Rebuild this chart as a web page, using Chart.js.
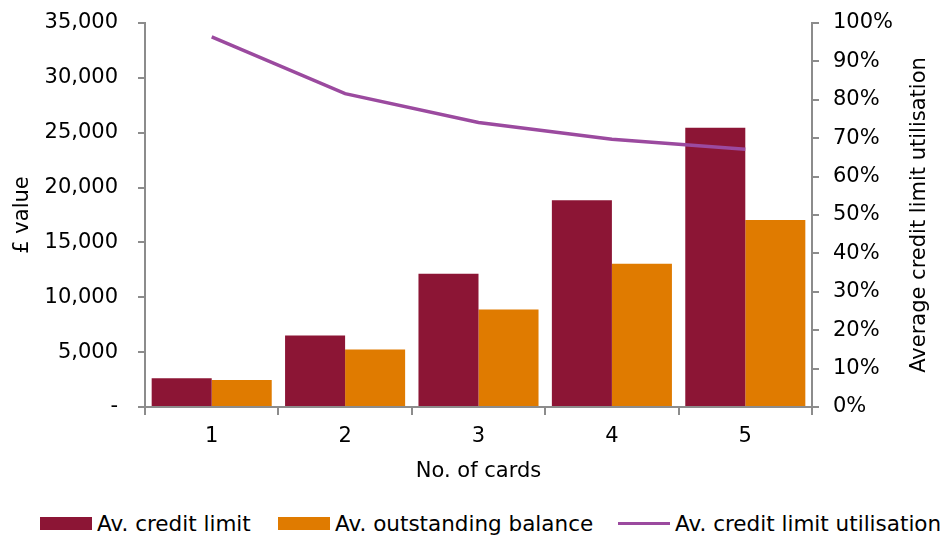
<!DOCTYPE html>
<html>
<head>
<meta charset="utf-8">
<script src="https://cdn.jsdelivr.net/npm/chart.js@4/dist/chart.umd.min.js"></script>
<style>
  html, body { margin: 0; padding: 0; background: #fff; }
  #wrap { position: relative; width: 946px; height: 500px; }
  #legend {
    position: absolute; left: 0; top: 508px; width: 946px; height: 30px;
    font-family: "DejaVu Sans", Verdana, sans-serif; font-size: 21.5px; color: #000;
  }
  .item { position: absolute; top: 0; height: 30px; display: flex; align-items: center; white-space: nowrap; }
  .swatch { width: 52px; height: 13px; margin-right: 5px; }
  .line { width: 52px; height: 3px; margin-right: 5px; }
</style>
</head>
<body>
<div id="wrap"><canvas id="chart"></canvas></div>
<div id="legend"></div>
<script>
const cards = ["1", "2", "3", "4", "5"];
const creditLimit = [2620, 6520, 12150, 18850, 25450];
const outstanding = [2450, 5250, 8880, 13050, 17050];
const utilisation = [96.4, 81.6, 74.1, 69.7, 67.1];

const crimson = "#8c1535";
const orange = "#e07b00";
const purple = "#9b4a9f";
const axisGrey = "#8c8c8c";
const fontFamily = "'DejaVu Sans', Verdana, sans-serif";
const font = { family: fontFamily, size: 21 };

const legendItems = [
  { label: "Av. credit limit", color: crimson, kind: "swatch", x: 40 },
  { label: "Av. outstanding balance", color: orange, kind: "swatch", x: 278 },
  { label: "Av. credit limit utilisation", color: purple, kind: "line", x: 618 },
];
document.getElementById("legend").innerHTML = legendItems.map((item) =>
  `<div class="item" style="left:${item.x}px"><span class="${item.kind}" style="background:${item.color}"></span>${item.label}</div>`
).join("");

// right-hand title reads bottom-to-top, which Chart.js won't do for a right axis
const rightTitle = {
  id: "rightTitle",
  afterDraw(chart) {
    const { ctx, chartArea } = chart;
    ctx.save();
    ctx.translate(920, (chartArea.top + chartArea.bottom) / 2);
    ctx.rotate(-Math.PI / 2);
    ctx.font = `21px ${fontFamily}`;
    ctx.fillStyle = "#000";
    ctx.textAlign = "center";
    ctx.textBaseline = "middle";
    ctx.fillText("Average credit limit utilisation", 0, 0);
    ctx.restore();
  },
};

function fixWidth(width) {
  return (scale) => {
    scale.width = width;
    scale.paddingTop = 0;
    scale.paddingBottom = 0;
  };
}

Chart.defaults.font = font;
Chart.defaults.color = "#000";

new Chart(document.getElementById("chart"), {
  type: "bar",
  data: {
    labels: cards,
    datasets: [
      {
        type: "line",
        label: "Av. credit limit utilisation",
        data: utilisation,
        yAxisID: "y2",
        borderColor: purple,
        backgroundColor: purple,
        borderWidth: 3.5,
        pointRadius: 0,
        tension: 0,
        order: 0,
      },
      {
        label: "Av. credit limit",
        data: creditLimit,
        yAxisID: "y",
        backgroundColor: crimson,
        categoryPercentage: 0.9,
        barPercentage: 1,
        order: 1,
      },
      {
        label: "Av. outstanding balance",
        data: outstanding,
        yAxisID: "y",
        backgroundColor: orange,
        categoryPercentage: 0.9,
        barPercentage: 1,
        order: 1,
      },
    ],
  },
  options: {
    responsive: true,
    maintainAspectRatio: false,
    animation: false,
    layout: { padding: { top: 23, left: 0, right: 0, bottom: 16 } },
    plugins: { legend: { display: false }, tooltip: { enabled: false } },
    scales: {
      x: {
        offset: true,
        grid: { offset: true, drawOnChartArea: false, drawTicks: true, tickLength: 8, color: axisGrey, lineWidth: 2 },
        border: { color: axisGrey, width: 2 },
        ticks: { padding: 9, maxRotation: 0 },
        title: { display: true, text: "No. of cards", padding: { top: 4, bottom: 0 } },
        afterFit: (scale) => { scale.height = 77; },
      },
      y: {
        position: "left",
        min: 0,
        max: 35000,
        grid: { drawOnChartArea: false, tickLength: 7, color: axisGrey, lineWidth: 2 },
        border: { color: axisGrey, width: 2 },
        ticks: {
          stepSize: 5000,
          padding: 20,
          callback: (v) => (v === 0 ? "-" : v.toLocaleString("en-GB")),
        },
        title: { display: true, text: "£ value", padding: { top: 10, bottom: 0 } },
        afterFit: fixWidth(145),
      },
      y2: {
        position: "right",
        min: 0,
        max: 100,
        grid: { drawOnChartArea: false, tickLength: 7, color: axisGrey, lineWidth: 2 },
        border: { color: axisGrey, width: 2 },
        ticks: { stepSize: 10, padding: 14, callback: (v) => v + "%" },
        afterFit: fixWidth(134),
      },
    },
  },
  plugins: [rightTitle],
});
</script>
</body>
</html>
